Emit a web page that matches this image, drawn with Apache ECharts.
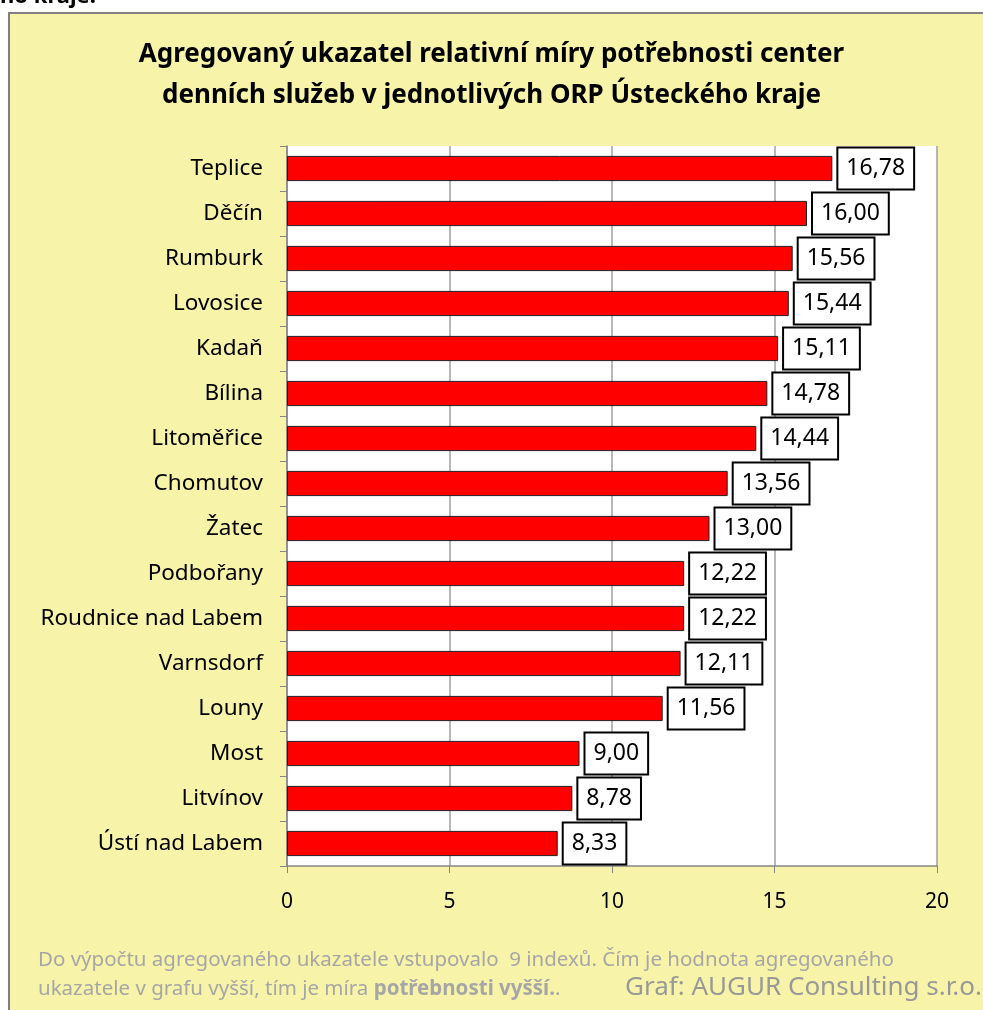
<!DOCTYPE html>
<html><head><meta charset="utf-8">
<script src="https://cdn.jsdelivr.net/npm/echarts@6/dist/echarts.min.js"></script>
<style>html,body{margin:0;padding:0;background:#fff}#c{width:983px;height:1010px}</style>
</head><body><div id="c"></div>
<script>
const categories = ["Teplice","Děčín","Rumburk","Lovosice","Kadaň","Bílina","Litoměřice","Chomutov","Žatec","Podbořany","Roudnice nad Labem","Varnsdorf","Louny","Most","Litvínov","Ústí nad Labem"];
const values = [16.78,16.00,15.56,15.44,15.11,14.78,14.44,13.56,13.00,12.22,12.22,12.11,11.56,9.00,8.78,8.33];
const xTicks = [0,5,10,15,20];
const titleText = "Agregovaný ukazatel relativní míry potřebnosti center\ndenních služeb v jednotlivých ORP Ústeckého kraje";
const FONT = "Noto Sans";
const chart = echarts.init(document.getElementById('c'));
chart.setOption({
  animation:false,
  textStyle:{fontFamily:FONT},
  graphic:[
    {type:'rect',z:-10,shape:{x:9,y:13,width:990,height:1010},style:{fill:'#F7F3A9',stroke:'#7f7f7f',lineWidth:2}},
    {type:'text',left:0,top:-14,style:{text:'ho kraje:',font:'bold 22px '+FONT,fill:'#000'}},
    {type:'text',left:38,top:946,style:{text:'Do výpočtu agregovaného ukazatele vstupovalo  9 indexů. Čím je hodnota agregovaného\n{n|ukazatele v grafu vyšší, tím je míra }{b|potřebnosti vyšší.}{n|.}',
      font:'20.5px '+FONT,fill:'#a6a6a6',lineHeight:29,
      rich:{n:{fontSize:20.5,fill:'#a6a6a6',fontFamily:FONT,lineHeight:29},b:{fontSize:20.5,fontWeight:'bold',fill:'#a6a6a6',fontFamily:FONT,lineHeight:29}}}},
    {type:'text',right:1,top:975,style:{text:'Graf: AUGUR Consulting s.r.o.',font:'26px '+FONT,fill:'#989898'}}
  ],
  title:{text:titleText,left:'center',top:29,textStyle:{fontSize:26,fontWeight:'bold',color:'#000',lineHeight:41,fontFamily:FONT}},
  grid:{left:287,right:46,top:146,bottom:144,show:true,backgroundColor:'#fff',borderWidth:0},
  xAxis:{type:'value',min:0,max:20,interval:5,
    axisLine:{show:true,lineStyle:{color:'#868686',width:1.5}},
    axisTick:{show:true,length:7,lineStyle:{color:'#868686'}},
    axisLabel:{fontSize:21,color:'#000',margin:26,formatter:v=>xTicks.includes(v)?String(v):''},
    splitLine:{show:true,lineStyle:{color:'#a0a0a0',width:1.5}}},
  yAxis:{type:'category',data:categories,inverse:true,
    axisLine:{show:true,lineStyle:{color:'#868686',width:1.5}},
    axisTick:{show:true,length:7,lineStyle:{color:'#868686'}},
    axisLabel:{fontSize:22.5,color:'#000',margin:24}},
  series:[{type:'bar',data:values,barWidth:'56%',
    itemStyle:{color:'#FF0000',borderColor:'#202020',borderWidth:1},
    label:{show:true,position:'right',distance:6,fontSize:23,lineHeight:24,color:'#000',
      backgroundColor:'#fff',borderColor:'#000',borderWidth:2,padding:[9,8,7,8],
      formatter:p=>p.value.toFixed(2).replace('.',',')}}]
});
</script></body></html>
